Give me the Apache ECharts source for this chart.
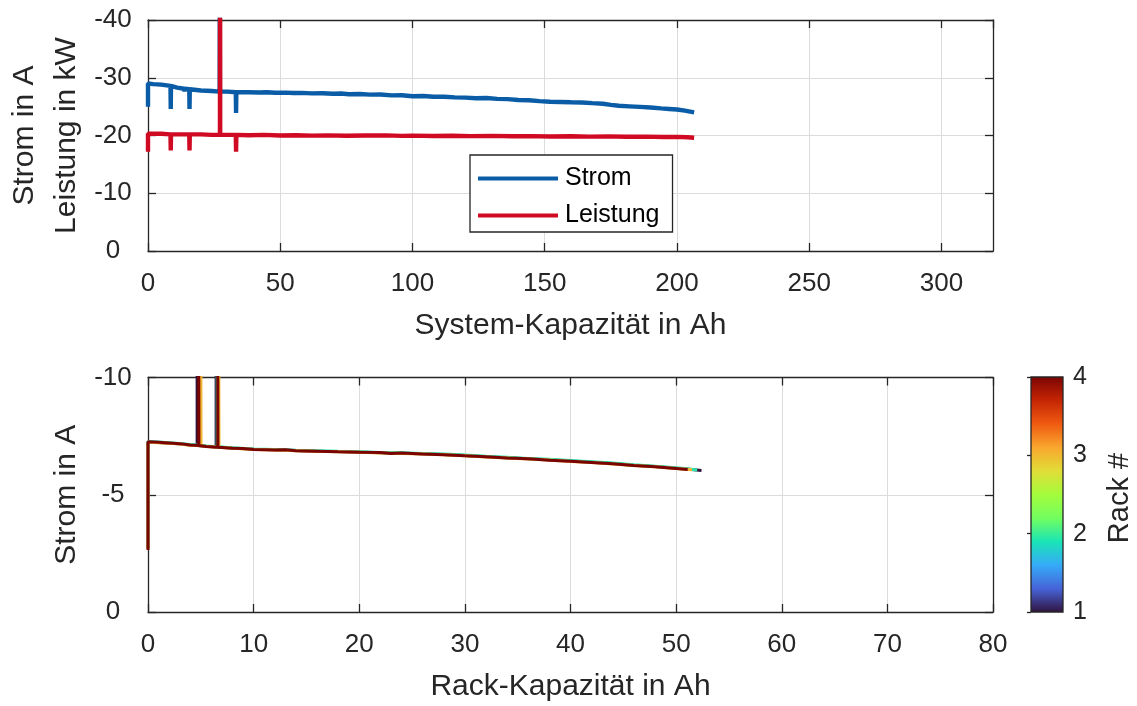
<!DOCTYPE html>
<html>
<head>
<meta charset="utf-8">
<script src="https://cdn.jsdelivr.net/npm/echarts@6/dist/echarts.min.js"></script>
<style>
html,body{margin:0;padding:0;background:#fff;}
#chart{width:1137px;height:706px;}
</style>
</head>
<body>
<div id="chart"></div>
<script>
// ---------- DATA ----------
// Top plot: System capacity (Ah) vs current (A) and power (kW)
const stromCap = [0, 0, 2, 5, 8.5, 8.6, 8.7, 11, 13.7, 13.8, 13.9, 15.6, 15.7, 15.8, 20, 24, 27.1, 27.15, 27.2, 30, 33.2, 33.3, 33.4,
  38, 42, 45, 48, 52, 55, 58, 62, 66, 70, 73, 76, 80, 84, 88, 92, 96, 100, 104, 108, 112, 116, 120, 124, 128, 132, 136, 140, 144, 148,
  152, 156, 160, 164, 168, 172, 175, 178, 182, 186, 190, 194, 197, 200, 203, 206.5];
const stromVal = [-25.0, -29.0, -28.9, -28.8, -28.6, -24.6, -28.6, -28.3, -28.1, -27.6, -28.1, -28.0, -24.6, -28.0, -27.8, -27.7, -27.6, -45, -27.6, -27.6, -27.5, -23.9, -27.5,
  -27.5, -27.45, -27.5, -27.4, -27.42, -27.35, -27.38, -27.3, -27.32, -27.22, -27.27, -27.15, -27.18, -27.08, -27.1, -26.95, -26.98, -26.8, -26.85, -26.7, -26.72, -26.6, -26.55, -26.45, -26.5, -26.35, -26.3, -26.15, -26.1, -25.95,
  -25.85, -25.8, -25.75, -25.72, -25.6, -25.5, -25.3, -25.15, -25.05, -24.95, -24.85, -24.7, -24.6, -24.5, -24.3, -24.0];
const leistungCap = [0, 0, 2, 5, 8.5, 8.6, 8.7, 11, 13.7, 13.8, 13.9, 15.6, 15.7, 15.8, 20, 24, 27.2, 27.25, 27.3, 30, 33.2, 33.3, 33.4,
  38, 44, 50, 56, 62, 68, 75, 82, 90, 96, 100, 108, 115, 122, 130, 138, 145, 152, 160, 167, 174, 181, 188, 195, 200, 204, 206.5];
const leistungVal = [-17.2, -20.3, -20.3, -20.3, -20.2, -17.4, -20.2, -20.2, -20.2, -19.9, -20.2, -20.2, -17.4, -20.2, -20.2, -20.1, -20.1, -45, -20.1, -20.1, -20.1, -17.2, -20.1,
  -20.05, -20.1, -20.0, -20.05, -19.98, -20.03, -19.95, -20.0, -20.02, -19.94, -19.97, -19.92, -19.96, -19.9, -19.93, -19.86, -19.9, -19.82, -19.86, -19.8, -19.84, -19.78, -19.8, -19.74, -19.76, -19.7, -19.6];

// Bottom plot: Rack capacity (Ah) vs current (A), one series per rack
const rackNames = ['Rack 1', 'Rack 2', 'Rack 3', 'Rack 4'];
const rack1Cap = [0, 0, 1, 2, 3, 4, 4.65, 4.65, 4.67, 5.5, 6.45, 6.45, 6.47, 8, 10, 12, 14, 16, 18, 20, 22, 24, 26, 28, 30, 32, 34, 36, 38, 40, 42, 44, 46, 48, 50, 51, 52.4];
const rack1Cur = [-2.7, -7.25, -7.23, -7.2, -7.17, -7.12, -7.1, -12, -7.1, -7.07, -7.04, -12, -7.04, -6.99, -6.94, -6.92, -6.89, -6.86, -6.84, -6.82, -6.79, -6.77, -6.75, -6.72, -6.67, -6.62, -6.58, -6.53, -6.49, -6.44, -6.39, -6.33, -6.26, -6.2, -6.13, -6.1, -6.03];
const rack2Cap = [0, 0, 1, 2, 3, 4, 4.95, 4.95, 4.97, 5.5, 6.55, 6.55, 6.57, 8, 10, 12, 14, 16, 18, 20, 22, 24, 26, 28, 30, 32, 34, 36, 38, 40, 42, 44, 46, 48, 50, 51, 52.0];
const rack2Cur = [-2.7, -7.27, -7.25, -7.22, -7.19, -7.14, -7.11, -12, -7.11, -7.08, -7.05, -12, -7.05, -7.0, -6.95, -6.93, -6.9, -6.88, -6.85, -6.83, -6.8, -6.79, -6.76, -6.74, -6.69, -6.64, -6.6, -6.55, -6.51, -6.46, -6.41, -6.35, -6.28, -6.22, -6.15, -6.11, -6.06];
const rack3Cap = [0, 0, 1, 2, 3, 4, 5.0, 5.0, 5.02, 5.5, 6.7, 6.7, 6.72, 8, 10, 12, 14, 16, 18, 20, 22, 24, 26, 28, 30, 32, 34, 36, 38, 40, 42, 44, 46, 48, 50, 51.5];
const rack3Cur = [-2.7, -7.24, -7.22, -7.2, -7.16, -7.11, -7.09, -12, -7.09, -7.06, -7.03, -12, -7.03, -6.98, -6.93, -6.91, -6.88, -6.85, -6.83, -6.81, -6.78, -6.76, -6.74, -6.71, -6.66, -6.61, -6.57, -6.52, -6.48, -6.42, -6.37, -6.31, -6.25, -6.19, -6.12, -6.07];
const rack4Cap = [0, 0, 1, 2, 3, 4, 4.8, 4.8, 4.82, 5.5, 6.6, 6.6, 6.62, 8, 9, 10, 12, 13, 14, 16, 18, 20, 22, 23, 24, 26, 28, 30, 32, 34, 36, 38, 40, 42, 44, 46, 48, 50, 51.1];
const rack4Cur = [-2.64, -7.26, -7.24, -7.21, -7.18, -7.12, -7.1, -12, -7.1, -7.06, -7.03, -12, -7.03, -6.98, -6.97, -6.93, -6.91, -6.92, -6.88, -6.86, -6.83, -6.81, -6.8, -6.76, -6.78, -6.74, -6.71, -6.66, -6.62, -6.57, -6.53, -6.47, -6.43, -6.38, -6.32, -6.25, -6.19, -6.12, -6.08];

// Colorbar range (rack number)
const rackMin = 1;
const rackMax = 4;

// ---------- STYLE ----------
const FONT = "'Liberation Sans', Arial, Helvetica, sans-serif";
const AX = '#262626';
const GRIDC = '#dcdcdc';
const BLUE = '#0a5ca6';
const RED = '#d00a22';
const rackColors = ['#30123b', '#29e5ad', '#f2b631', '#7a0403'];
const turboStops = [
  [0.0, '#30123b'], [0.1, '#4662d7'], [0.2, '#36aaf9'], [0.3, '#1ae4b6'],
  [0.4, '#72fe5e'], [0.5, '#a4fc3c'], [0.6, '#e1dd37'], [0.7, '#f9a62e'],
  [0.8, '#ef5911'], [0.9, '#c42503'], [1.0, '#7a0403']
];

function zip(xs, ys) { return xs.map((x, i) => [x, ys[i]]); }

function primaryX(gi, min, max, interval, name, showMax) {
  return {
    type: 'value', gridIndex: gi, position: 'bottom', min, max, interval,
    name, nameLocation: 'middle', nameGap: 60, nameMoveOverlap: false,
    nameTextStyle: { fontFamily: FONT, fontSize: 30, color: AX },
    axisLine: { show: true, onZero: false, lineStyle: { color: AX, width: 1.3 } },
    axisTick: { show: true, inside: true, length: 8, lineStyle: { color: AX, width: 1.3 } },
    axisLabel: { show: true, margin: 20, fontFamily: FONT, fontSize: 26, color: AX, showMaxLabel: showMax },
    splitLine: { show: true, lineStyle: { color: GRIDC, width: 1 } }
  };
}
function secondaryX(gi, min, max, interval) {
  return {
    type: 'value', gridIndex: gi, position: 'top', min, max, interval,
    axisLine: { show: true, onZero: false, lineStyle: { color: AX, width: 1.3 } },
    axisTick: { show: true, inside: true, length: 8, lineStyle: { color: AX, width: 1.3 } },
    axisLabel: { show: false }, splitLine: { show: false }
  };
}
function primaryY(gi, min, max, interval, name) {
  return {
    type: 'value', gridIndex: gi, position: 'left', min, max, interval, inverse: true,
    name, nameLocation: 'middle', nameGap: 60, nameMoveOverlap: false,
    nameTextStyle: { fontFamily: FONT, fontSize: 30, color: AX, lineHeight: 42 },
    axisLine: { show: true, onZero: false, lineStyle: { color: AX, width: 1.3 } },
    axisTick: { show: true, inside: true, length: 8, lineStyle: { color: AX, width: 1.3 } },
    axisLabel: { show: true, margin: 35, align: 'center', fontFamily: FONT, fontSize: 26, color: AX },
    splitLine: { show: true, lineStyle: { color: GRIDC, width: 1 } }
  };
}
function secondaryY(gi, min, max, interval) {
  return {
    type: 'value', gridIndex: gi, position: 'right', min, max, interval, inverse: true,
    axisLine: { show: true, onZero: false, lineStyle: { color: AX, width: 1.3 } },
    axisTick: { show: true, inside: true, length: 8, lineStyle: { color: AX, width: 1.3 } },
    axisLabel: { show: false }, splitLine: { show: false }
  };
}

const chart = echarts.init(document.getElementById('chart'), null, { renderer: 'canvas' });

const rackCaps = [rack1Cap, rack2Cap, rack3Cap, rack4Cap];
const rackCurs = [rack1Cur, rack2Cur, rack3Cur, rack4Cur];

const series = [
  {
    name: 'Strom', type: 'line', xAxisIndex: 0, yAxisIndex: 0,
    data: zip(stromCap, stromVal), showSymbol: false, symbol: 'none', clip: true,
    lineStyle: { color: BLUE, width: 4.4 }, itemStyle: { color: BLUE }, z: 3
  },
  {
    name: 'Leistung', type: 'line', xAxisIndex: 0, yAxisIndex: 0,
    data: zip(leistungCap, leistungVal), showSymbol: false, symbol: 'none', clip: true,
    lineStyle: { color: RED, width: 4.4 }, itemStyle: { color: RED }, z: 4
  }
];
rackNames.forEach((n, i) => {
  series.push({
    name: n, type: 'line', xAxisIndex: 2, yAxisIndex: 2,
    data: zip(rackCaps[i], rackCurs[i]), showSymbol: false, symbol: 'none', clip: true,
    lineStyle: { color: rackColors[i], width: 3 }, z: 3 + i
  });
});
series.push({
  name: 'colorbar', type: 'custom', xAxisIndex: 4, yAxisIndex: 4,
  data: [[0, rackMin, rackMax]], silent: true, clip: false,
  renderItem: function (params, api) {
    const tl = api.coord([0, api.value(2)]);
    const br = api.coord([1, api.value(1)]);
    return {
      type: 'rect',
      shape: { x: tl[0], y: tl[1], width: br[0] - tl[0], height: br[1] - tl[1] },
      style: {
        fill: new echarts.graphic.LinearGradient(0, 1, 0, 0,
          turboStops.map(s => ({ offset: s[0], color: s[1] }))),
        stroke: AX, lineWidth: 1.3
      }
    };
  }
});

const option = {
  backgroundColor: '#fff',
  animation: false,
  textStyle: { fontFamily: FONT },
  grid: [
    { left: 148, right: 144, top: 20, height: 231, containLabel: false, outerBoundsMode: 'none' },
    { left: 148, right: 144, top: 377.5, height: 234.5, containLabel: false, outerBoundsMode: 'none' },
    { left: 1031, width: 32, top: 377, height: 235, containLabel: false, outerBoundsMode: 'none' }
  ],
  xAxis: [
    primaryX(0, 0, 319.5, 50, 'System-Kapazität in Ah', false),
    secondaryX(0, 0, 319.5, 50),
    primaryX(1, 0, 80, 10, 'Rack-Kapazität in Ah', true),
    secondaryX(1, 0, 80, 10),
    { type: 'value', gridIndex: 2, min: 0, max: 1, show: false }
  ],
  yAxis: [
    primaryY(0, -40, 0, 10, 'Strom in A\nLeistung in kW'),
    secondaryY(0, -40, 0, 10),
    primaryY(1, -10, 0, 5, 'Strom in A'),
    secondaryY(1, -10, 0, 5),
    {
      type: 'value', gridIndex: 2, position: 'right', min: rackMin, max: rackMax, interval: 1,
      name: 'Rack #', nameLocation: 'middle', nameGap: 42, nameMoveOverlap: false,
      nameTextStyle: { fontFamily: FONT, fontSize: 29, color: AX, padding: [0, 7, 0, 0] },
      axisLine: { show: false },
      axisTick: { show: true, inside: true, length: 4, lineStyle: { color: AX, width: 1.3 } },
      axisLabel: { show: true, margin: 10, fontFamily: FONT, fontSize: 25, color: AX },
      splitLine: { show: false }
    }
  ],
  legend: {
    data: ['Strom', 'Leistung'],
    orient: 'vertical', left: 470, top: 155,
    icon: 'rect', itemWidth: 80, itemHeight: 4, itemGap: 12,
    padding: [11, 13, 4, 8],
    borderColor: AX, borderWidth: 1.3, backgroundColor: '#fff',
    textStyle: { fontFamily: FONT, fontSize: 25, color: '#000', padding: [0, 0, 0, 2] }
  },
  series
};
chart.setOption(option);
</script>
</body>
</html>
